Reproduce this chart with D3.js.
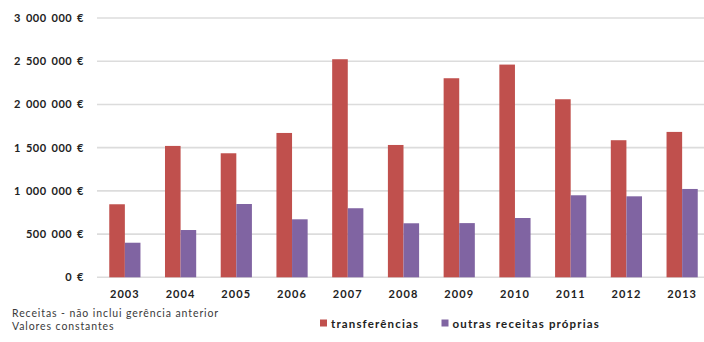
<!DOCTYPE html>
<html>
<head>
<meta charset="utf-8">
<script src="https://cdn.jsdelivr.net/npm/d3@7/dist/d3.min.js"></script>
<style>
  html, body { margin: 0; padding: 0; background: #fff; }
  svg { display: block; font-family: Lato, "Open Sans", sans-serif; }
</style>
</head>
<body>
<svg id="chart" width="704" height="342"></svg>
<script>
// Receitas por ano (euros, valores constantes)
const years = ["2003","2004","2005","2006","2007","2008","2009","2010","2011","2012","2013"];
const transferencias = [845000, 1520000, 1435000, 1670000, 2523000, 1531000, 2303000, 2461000, 2060000, 1586000, 1682000];
const outrasReceitas = [400000, 547000, 848000, 671000, 799000, 625000, 627000, 686000, 949000, 937000, 1022000];
const yTicks = [0, 500000, 1000000, 1500000, 2000000, 2500000, 3000000];
const seriesNames = ["transferências", "outras receitas próprias"];
const seriesColors = ["#C0504D", "#8064A2"];

const svg = d3.select("#chart");
const plot = { left: 97, right: 710, top: 18, bottom: 277.3 };

const x = d3.scaleBand().domain(years).range([plot.left, plot.right]).paddingInner(0).paddingOuter(0);
const y = d3.scaleLinear().domain([0, 3000000]).range([plot.bottom, plot.top]);
const barW = 15.6;

const fmt = v => d3.format(",")(v).replace(/,/g, " ") + " €";

// grid lines
svg.append("g").selectAll("line").data(yTicks).join("line")
  .attr("x1", plot.left).attr("x2", 704)
  .attr("y1", d => y(d)).attr("y2", d => y(d))
  .attr("stroke", "#dcdcdc").attr("stroke-width", 1.6);

// y axis labels
const yAxis = d3.axisLeft(y).tickValues(yTicks).tickFormat(fmt).tickSize(0).tickPadding(13);
const gy = svg.append("g").attr("transform", `translate(${plot.left},0)`).call(yAxis);
gy.select(".domain").remove();
gy.selectAll("text").attr("font-size", 11).attr("font-weight", 700)
  .attr("fill", "#222").attr("letter-spacing", 0.5).attr("word-spacing", 1.8)
  .attr("font-family", "Lato, sans-serif");

// bars
const groups = [transferencias, outrasReceitas];
groups.forEach((vals, si) => {
  svg.append("g").selectAll("rect").data(years).join("rect")
    .attr("x", d => x(d) + x.bandwidth() / 2 - barW + si * barW)
    .attr("width", barW)
    .attr("y", (d, i) => y(vals[i]))
    .attr("height", (d, i) => y(0) - y(vals[i]))
    .attr("fill", seriesColors[si]);
});

// x axis labels
const xAxis = d3.axisBottom(x).tickSize(0).tickPadding(13);
const gx = svg.append("g").attr("transform", `translate(0,${plot.bottom})`).call(xAxis);
gx.select(".domain").remove();
gx.selectAll("text").attr("font-size", 11).attr("font-weight", 700)
  .attr("fill", "#222").attr("letter-spacing", 1.1).attr("font-family", "Lato, sans-serif");

// footnote
const note = svg.append("g").attr("font-size", 10.5).attr("fill", "#3a3a3a").attr("font-family", "Lato, sans-serif");
note.append("text").attr("x", 12).attr("y", 317).attr("letter-spacing", 0.9).text("Receitas - não inclui gerência anterior");
note.append("text").attr("x", 12).attr("y", 330).attr("letter-spacing", 0.9).text("Valores constantes");

// legend
const legendX = [320, 441.5];
const lg = svg.append("g");
seriesNames.forEach((name, i) => {
  lg.append("rect").attr("x", legendX[i]).attr("y", 319.5).attr("width", 7).attr("height", 7).attr("fill", seriesColors[i]);
  lg.append("text").attr("x", legendX[i] + 11).attr("y", 327.5)
    .attr("font-size", 11.5).attr("font-weight", 700).attr("fill", "#222")
    .attr("letter-spacing", 1.15).attr("font-family", "Lato, sans-serif").text(name);
});
</script>
</body>
</html>
